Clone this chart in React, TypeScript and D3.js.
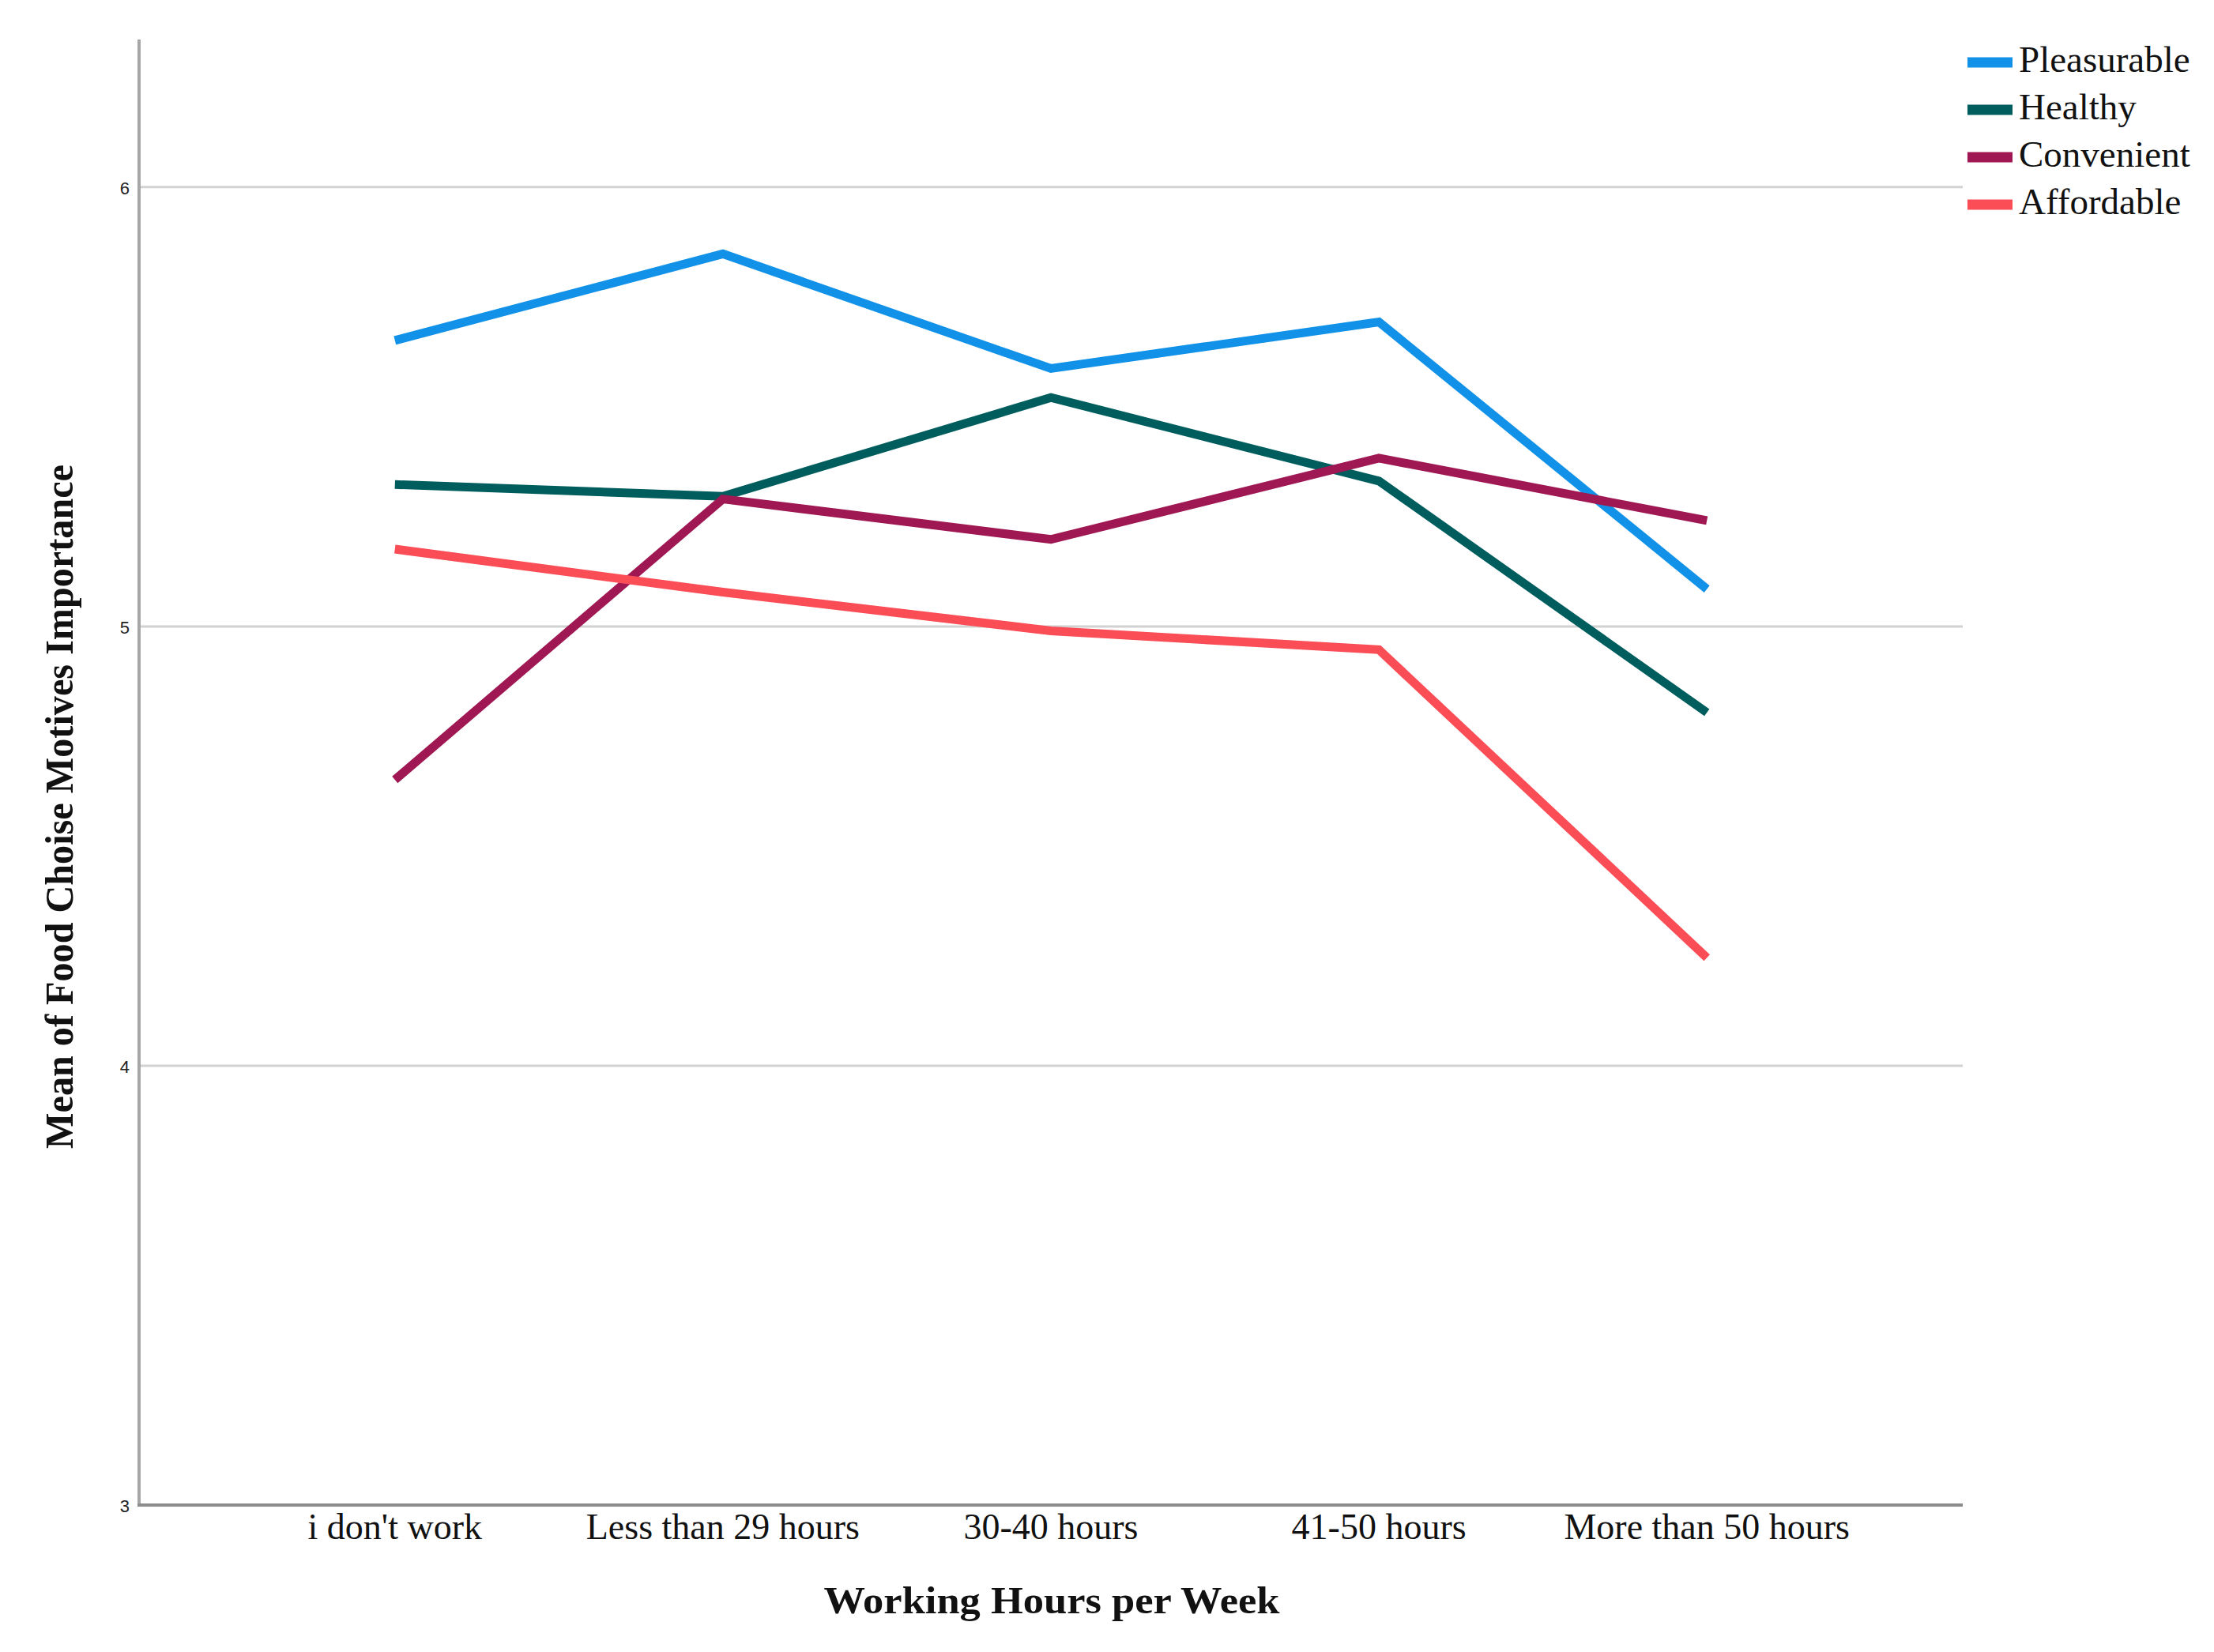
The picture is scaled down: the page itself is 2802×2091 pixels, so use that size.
import React from "react";
import * as d3 from "d3";

const categories = ["i don't work", "Less than 29 hours", "30-40 hours", "41-50 hours", "More than 50 hours"];
const seriesNames = ["Pleasurable", "Healthy", "Convenient", "Affordable"];
const pleasurable = [5.651, 5.848, 5.587, 5.693, 5.085];
const healthy = [5.323, 5.296, 5.521, 5.331, 4.804];
const convenient = [4.651, 5.29, 5.198, 5.383, 5.241];
const affordable = [5.176, 5.078, 4.99, 4.947, 4.246];
const seriesColors = ["#1192e8", "#005d5d", "#9f1853", "#fa4d56"];
const yTicks = [3, 4, 5, 6];

const W = 2802;
const H = 2091;
const left = 176;
const right = 2484;
const top = 50;
const bottom = 1905;

export default function App() {
  const series = [pleasurable, healthy, convenient, affordable];
  const x = d3.scalePoint<string>().domain(categories).range([left, right]).padding(0.78);
  const y = d3.scaleLinear().domain([3, 6.336]).range([bottom, top]);
  const line = d3
    .line<number>()
    .x((_, i) => x(categories[i]) as number)
    .y((d) => y(d));

  return (
    <svg
      width={W}
      height={H}
      style={{ position: "absolute", left: 0, top: 0, display: "block", background: "#fff" }}
    >
      <rect x={0} y={0} width={W} height={H} fill="#fff" />
      {/* grid lines */}
      {yTicks.filter((t) => t !== 3).map((t) => (
        <line key={t} x1={left} x2={right} y1={y(t)} y2={y(t)} stroke="#d2d2d2" strokeWidth={3} />
      ))}
      {/* axes */}
      <line x1={left} x2={left} y1={top} y2={bottom} stroke="#a6a6a6" strokeWidth={4} />
      <line x1={left - 2} x2={right} y1={bottom} y2={bottom} stroke="#8c8c8c" strokeWidth={4} />
      {/* y tick labels */}
      {yTicks.map((t) => (
        <text
          key={t}
          x={164}
          y={y(t) + 3}
          textAnchor="end"
          dominantBaseline="middle"
          fontFamily="Liberation Sans, Arial, sans-serif"
          fontSize={22}
          fill="#222"
        >
          {t}
        </text>
      ))}
      {/* category labels */}
      {categories.map((c) => (
        <text
          key={c}
          x={x(c) as number}
          y={1948}
          textAnchor="middle"
          fontFamily="Liberation Serif, Times New Roman, serif"
          fontSize={46}
          fill="#111"
        >
          {c}
        </text>
      ))}
      {/* lines */}
      {series.map((s, i) => (
        <path
          key={seriesNames[i]}
          d={line(s) as string}
          fill="none"
          stroke={seriesColors[i]}
          strokeWidth={11}
          strokeLinejoin="miter"
        />
      ))}
      {/* axis titles */}
      <text
        x={1331}
        y={2042}
        textAnchor="middle"
        fontFamily="Liberation Serif, Times New Roman, serif"
        fontWeight="bold"
        fontSize={48}
        textLength={577}
        lengthAdjust="spacingAndGlyphs"
        fill="#111"
      >
        Working Hours per Week
      </text>
      <text
        transform={`translate(92, 1021) rotate(-90)`}
        textAnchor="middle"
        fontFamily="Liberation Serif, Times New Roman, serif"
        fontWeight="bold"
        fontSize={50}
        textLength={866}
        lengthAdjust="spacingAndGlyphs"
        fill="#111"
      >
        Mean of Food Choise Motives Importance
      </text>
      {/* legend */}
      {seriesNames.map((n, i) => {
        const cy = 79 + i * 60;
        return (
          <g key={n}>
            <rect x={2490} y={cy - 6.5} width={57} height={13} fill={seriesColors[i]} />
            <text
              x={2555}
              y={cy + 12}
              fontFamily="Liberation Serif, Times New Roman, serif"
              fontSize={47}
              fill="#111"
            >
              {n}
            </text>
          </g>
        );
      })}
    </svg>
  );
}
